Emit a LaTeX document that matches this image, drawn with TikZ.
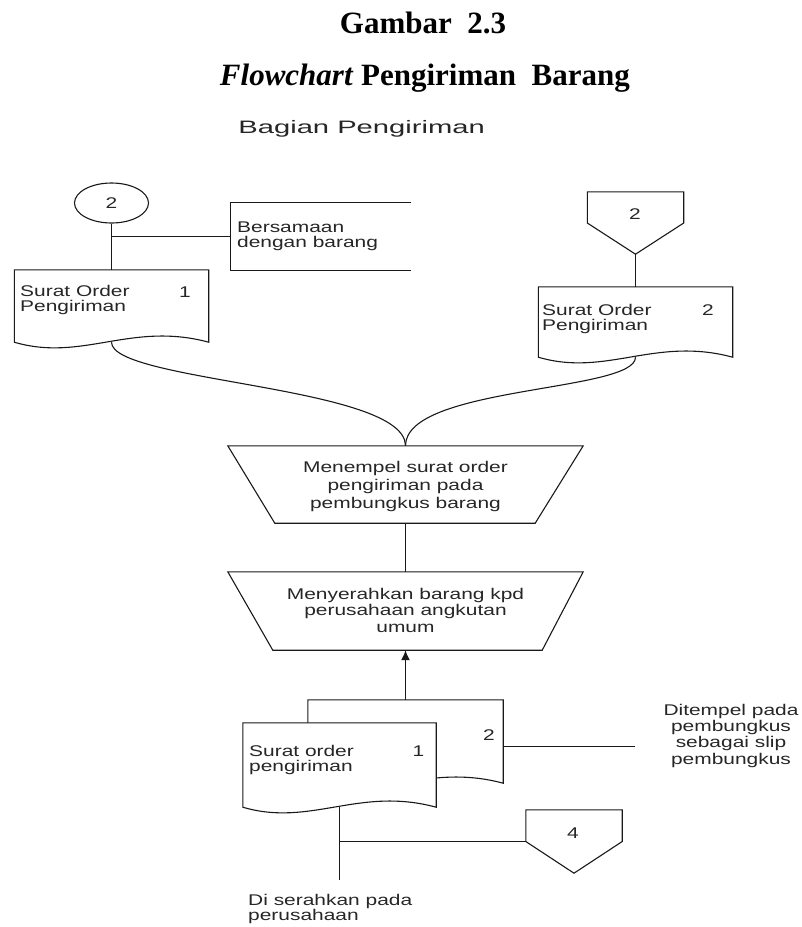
\documentclass[tikz,border=0pt]{standalone}
\usepackage{fontspec}
\setmainfont{Liberation Serif}
\newfontfamily\df[FakeStretch=1.35]{Liberation Sans}
\newfontfamily\hf[FakeStretch=1.62]{Liberation Sans}
\usetikzlibrary{calc,arrows.meta,shapes.geometric}
\tikzset{
  ln/.style={line width=1.1pt, draw=black!90},
  lbl/.style={inner sep=0pt, text=black!85, align=left, font=\df\fontsize{15.5}{#1}\selectfont},
  lbl/.default=15,
  ctr/.style={inner sep=0pt, text=black!85, align=center, font=\df\fontsize{15.5}{#1}\selectfont},
  ctr/.default=17,
  box/.style={inner sep=0pt, draw=none},
  ttl/.style={inner sep=0pt, font=\bfseries\fontsize{31}{36}\selectfont},
}
\newcommand\docpath[1]{(#1.south west) -- (#1.north west) -- (#1.north east) -- (#1.south east)
  .. controls ($(#1.south east)!0.4!(#1.south west)+(0,-21)$) and ($(#1.south east)!0.65!(#1.south west)+(0,20)$) .. (#1.south west) -- cycle}
\newcommand\offpath[1]{(#1.north west) -- (#1.north east) -- (#1.east) -- (#1.south) -- (#1.west) -- cycle}
\begin{document}
\begin{tikzpicture}[x=1pt,y=-1pt]
\useasboundingbox (0,0) rectangle (802,927);
% titles
\node[ttl, anchor=base] (t1) at (423,33) {Gambar~~2.3};
\node[ttl, anchor=base east] (t2) at (630,85) {\textit{Flowchart} Pengiriman~~Barang};
\node[inner sep=0pt, anchor=base east, text=black!85, font=\hf\fontsize{18}{20}\selectfont] (t3) at (485,133) {Bagian Pengiriman};

% top-left: connector circle, annotation, document 1
\node[ellipse, ln, draw, minimum width=74, minimum height=40, inner sep=0pt, text=black!85, font=\df\fontsize{15.5}{15.5}\selectfont] (c2) at (111.5,203) {2};
\node[box, minimum width=194, minimum height=72] (doc1) at (111.5,306) {};
\draw[ln] \docpath{doc1};
\node[lbl, anchor=north west] (doc1t) at (20,285.4) {Surat Order\\Pengiriman};
\node[lbl, anchor=base] (doc1n) at (185,297) {1};
\node[box, minimum width=180, minimum height=67] (ann1) at (320.5,236.5) {};
\draw[ln] (ann1.north east) -- (ann1.north west) -- (ann1.south west) -- (ann1.south east);
\node[lbl, anchor=north west] (ann1t) at (237,221.2) {Bersamaan\\dengan barang};
\draw[ln] (c2.south) -- (doc1.north);
\draw[ln] (c2.south |- ann1.west) -- (ann1.west);

% top-right: off-page connector 2, document 2
\node[box, minimum width=96, minimum height=62] (o2) at (635.5,223) {};
\draw[ln] \offpath{o2};
\node[lbl, anchor=center] (o2t) at (635,214) {2};
\node[box, minimum width=194, minimum height=70] (doc2) at (635.5,322) {};
\draw[ln] \docpath{doc2};
\node[lbl, anchor=north west] (doc2t) at (542,303.7) {Surat Order\\Pengiriman};
\node[lbl, anchor=base] (doc2n) at (708,315) {2};
\draw[ln] (o2.south) -- (doc2.north);

% manual operations
\node[box, minimum width=355, minimum height=77] (op1) at (405.5,484.5) {};
\draw[ln] (op1.north west) -- (op1.north east) -- ([xshift=-48pt]op1.south east) -- ([xshift=47pt]op1.south west) -- cycle;
\node[ctr=17.8, anchor=north] (op1t) at (405.5,461.4) {Menempel surat order\\pengiriman pada\\pembungkus barang};
\node[box, minimum width=355, minimum height=78] (op2) at (405.5,611) {};
\draw[ln] (op2.north west) -- (op2.north east) -- ([xshift=-41pt]op2.south east) -- ([xshift=45pt]op2.south west) -- cycle;
\node[ctr=16.5, anchor=north] (op2t) at (405.5,587.7) {Menyerahkan barang kpd\\perusahaan angkutan\\umum};

\draw[ln] (doc1.south) .. controls +(0,40) and +(0,-60) .. (op1.north);
\draw[ln] (doc2.south) .. controls +(0,35) and +(0,-60) .. (op1.north);
\draw[ln] (op1.south) -- (op2.north);

% bottom: multi-document
\node[box, minimum width=195, minimum height=83] (doc3b) at (405.5,741.5) {};
\draw[ln, fill=white] \docpath{doc3b};
\node[lbl, anchor=base] (doc3bn) at (489,740) {2};
\node[box, minimum width=193, minimum height=84] (doc3) at (339.5,765) {};
\draw[ln, fill=white] \docpath{doc3};
\node[lbl, anchor=north west] (doc3t) at (249,745.4) {Surat order\\pengiriman};
\node[lbl, anchor=base] (doc3n) at (418.5,756.5) {1};
\draw[ln, -{Latex[length=10pt,width=9pt]}] (doc3b.north) -- (op2.south);

\coordinate (r1) at (635,746.5);
\draw[ln] (doc3b.east |- r1) -- (r1);
\node[ctr=16.3, anchor=north] (ann2t) at (731,703.7) {Ditempel pada\\pembungkus\\sebagai slip\\pembungkus};

\node[box, minimum width=96, minimum height=63] (o4) at (574,841.5) {};
\draw[ln] \offpath{o4};
\node[lbl, anchor=center] (o4t) at (573,833) {4};
\coordinate (b1) at (339.5,880);
\draw[ln] (doc3.south) -- (b1);
\draw[ln] (doc3.south |- o4.west) -- (o4.west);
\node[lbl, anchor=north west] (bt) at (248,894.5) {Di serahkan pada\\perusahaan};
\end{tikzpicture}
\end{document}
